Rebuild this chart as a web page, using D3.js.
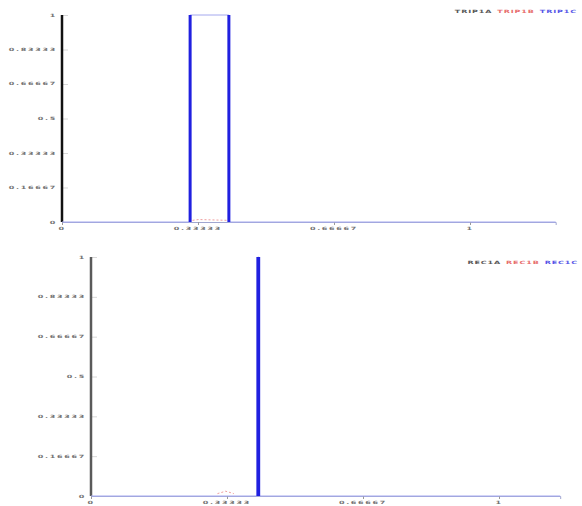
<!DOCTYPE html>
<html lang="en">
<head>
<meta charset="utf-8">
<title>TRIP / REC step plots</title>
<script src="https://cdn.jsdelivr.net/npm/d3@7"></script>
<style>
  body { margin: 0; background: #fff; }
  text { font-family: "DejaVu Sans", sans-serif; }
</style>
</head>
<body>
<script>
var w = 582;
var h = 506;

// tick values
var xTicks = [0, 0.33333, 0.66667, 1];
var yTicks = [0, 0.16667, 0.33333, 0.5, 0.66667, 0.83333, 1];

// top panel series (x, y pairs)
var trip1aX = [0, 0];
var trip1aY = [1, 0];
var trip1bX = [0.32, 0.335, 0.405];
var trip1bY = [0.008, 0.012, 0.008];
var trip1cX = [0, 0.314, 0.314, 0.409, 0.409, 1.21];
var trip1cY = [0, 0, 1, 1, 0, 0];

// bottom panel series
var rec1aX = [0, 0];
var rec1aY = [1, 0];
var rec1bX = [0.31, 0.33, 0.35];
var rec1bY = [0.01, 0.02, 0.01];
var rec1cX = [0, 0.409, 0.409, 0.411, 0.411, 1.15];
var rec1cY = [0, 0, 1, 1, 0, 0];

var topNames = ["TRIP1A", "TRIP1B", "TRIP1C"];
var botNames = ["REC1A", "REC1B", "REC1C"];
var colors = ["#222", "#e04040", "#2020e0"];

var svg = d3.select("body").append("svg")
  .attr("width", w)
  .attr("height", h);

function squishText(g, x, y, str, anchor, color, spacing) {
  return g.append("text")
    .attr("transform", "translate(" + x + "," + y + ") scale(1,0.55)")
    .attr("text-anchor", anchor)
    .attr("font-size", "8px")
    .attr("letter-spacing", spacing + "px")
    .attr("font-weight", "bold")
    .attr("fill", color)
    .attr("opacity", 0.75)
    .text(str);
}

function zip(xs, ys) {
  return xs.map(function(x, i) { return [x, ys[i]]; });
}

function panel(cfg) {
  var g = svg.append("g");
  var xScale = d3.scaleLinear().domain([0, cfg.xMax]).range([cfg.left, cfg.left + 408 * cfg.xMax]);
  var yScale = d3.scaleLinear().domain([0, 1]).range([cfg.bottom, cfg.top]);

  // y axis ticks to the inside, light
  var yAxis = d3.axisRight(yScale).tickValues(yTicks).tickSize(6).tickFormat("");
  g.append("g")
    .attr("transform", "translate(" + cfg.left + ",0)")
    .call(yAxis)
    .call(function(a) {
      a.select(".domain").remove();
      a.selectAll("line").attr("stroke", "#d8d8d8");
    });

  yTicks.forEach(function(t) {
    squishText(g, cfg.left - 5, yScale(t) + 1.5, String(t), "end", "#444", 1.7);
  });

  // x axis
  var xAxis = d3.axisBottom(xScale).tickValues(xTicks).tickSize(3).tickFormat("");
  g.append("g")
    .attr("transform", "translate(0," + cfg.bottom + ")")
    .call(xAxis)
    .call(function(a) {
      a.select(".domain").attr("stroke", "#a0a6d0");
      a.selectAll("line").attr("stroke", "#999");
    });

  xTicks.forEach(function(t) {
    squishText(g, xScale(t), cfg.bottom + 8, String(t), "middle", "#444", 1.7);
  });

  var line = d3.line()
    .x(function(d) { return xScale(d[0]); })
    .y(function(d) { return yScale(d[1]); });

  cfg.series.forEach(function(s, i) {
    var pts = zip(s[0], s[1]);
    g.append("path")
      .attr("d", line(pts))
      .attr("fill", "none")
      .attr("stroke", i === 2 ? "#a4a8ee" : colors[i])
      .attr("stroke-width", 1)
      .attr("stroke-dasharray", i === 1 ? "2,2" : null)
      .attr("opacity", i === 1 ? 0.5 : 1);
    // vertical jumps are drawn heavy
    if (i !== 1) {
      for (var k = 1; k < pts.length; k++) {
        if (pts[k][0] === pts[k - 1][0]) {
          g.append("line")
            .attr("x1", xScale(pts[k][0])).attr("x2", xScale(pts[k][0]))
            .attr("y1", yScale(pts[k - 1][1])).attr("y2", yScale(pts[k][1]))
            .attr("stroke", i === 0 ? cfg.aColor : colors[2])
            .attr("stroke-width", i === 0 ? 2.5 : 3);
        }
      }
    }
  });

  // legend
  var lx = cfg.legendRight;
  for (var j = cfg.names.length - 1; j >= 0; j--) {
    var t = squishText(g, lx, cfg.legendY, cfg.names[j], "end", colors[j], 0.9);
    lx -= t.node().getComputedTextLength() + 5;
  }
}

panel({
  left: 62, top: 15, bottom: 222, xMax: 1.21,
  series: [[trip1aX, trip1aY], [trip1bX, trip1bY], [trip1cX, trip1cY]],
  names: topNames, legendRight: 577, legendY: 13, aColor: "#111"
});

panel({
  left: 91, top: 257, bottom: 496, xMax: 1.15,
  series: [[rec1aX, rec1aY], [rec1bX, rec1bY], [rec1cX, rec1cY]],
  names: botNames, legendRight: 578, legendY: 264, aColor: "#5a5a5a"
});
</script>
</body>
</html>
